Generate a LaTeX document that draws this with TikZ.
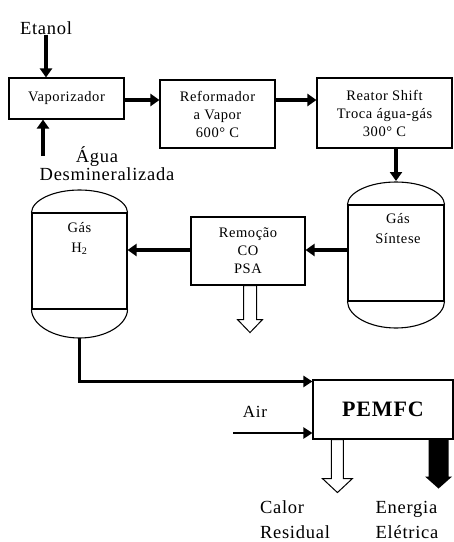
\documentclass[tikz,border=0pt]{standalone}
\usepackage{fontspec}
\setmainfont{Liberation Serif}[LetterSpace=4]
\usetikzlibrary{arrows.meta,calc}
\begin{document}
\begin{tikzpicture}[x=1pt,y=-1pt,
  box/.style={draw,line width=1.1pt,rectangle,inner sep=0pt,align=center,font=\fontsize{14.5}{18}\selectfont},
  vessel/.style={draw,line width=1.1pt,rectangle,inner sep=0pt},
  dome/.style={line width=1.1pt},
  thickarrow/.style={line width=3.5pt,-{Triangle[length=9pt,width=12pt]}},
  medarrow/.style={line width=2.6pt,-{Triangle[length=9pt,width=11pt]}},
  lbl/.style={inner sep=0pt,align=center,font=\fontsize{18.5}{25}\selectfont},
  vtext/.style={inner sep=0pt,align=center,font=\fontsize{14.5}{20}\selectfont},
  hollow/.style={draw,line width=1pt,fill=white},
]
\useasboundingbox (0,0) rectangle (454,542);

% boxes
\node[box,minimum width=115pt,minimum height=41pt] (vap) at (66.5,98.5) {Vaporizador};
\node[box,minimum width=115pt,minimum height=68pt] (ref) at (217.5,114) {Reformador\\a Vapor\\600° C};
\node[box,minimum width=135pt,minimum height=70pt] (rea) at (384.5,113) {Reator Shift\\Troca água-gás\\300° C};
\node[box,minimum width=114pt,minimum height=68pt] (rem) at (248,251) {Remoção\\CO\\PSA};
\node[box,minimum width=140pt,minimum height=59pt,font=\fontsize{22}{24}\selectfont\bfseries] (pem) at (383,409.5) {PEMFC};

% vessels
\node[vessel,minimum width=95pt,minimum height=96pt] (h2) at (79.5,261) {};
\draw[dome] (h2.north west) .. controls (32,200.3) and (53.3,190) .. (79.5,190)
  .. controls (105.7,190) and (127,200.3) .. (h2.north east);
\draw[dome] (h2.south west) .. controls (32,325) and (53.3,338) .. (79.5,338)
  .. controls (105.7,338) and (127,325) .. (h2.south east);
\coordinate (h2bot) at (79.5,338);
\node[vtext,anchor=north] (h2t) at (79.5,222) {Gás\\H\textsubscript{2}};

\node[vessel,minimum width=96pt,minimum height=96pt] (gas) at (396,253) {};
\draw[dome] (gas.north west) .. controls (348,192.3) and (369.5,182) .. (396,182)
  .. controls (422.5,182) and (444,192.3) .. (gas.north east);
\draw[dome] (gas.south west) .. controls (348,316) and (369.5,328) .. (396,328)
  .. controls (422.5,328) and (444,316) .. (gas.south east);
\coordinate (gastop) at (396,181);
\node[vtext,anchor=north] (gast) at (398,213) {Gás\\Síntese};

% labels
\node[lbl] (etanol) at (46,28) {Etanol};
\node[lbl] (agua1) at (97,157) {Água};
\node[lbl] (agua2) at (107,174) {Desmineralizada};
\coordinate (aguain) at (43,156);
\node[lbl,font=\fontsize{17}{20}\selectfont] (air) at (255,412) {Air};
\coordinate (airin) at (233,433);
\node[lbl,align=left] (calor) at (295,520) {Calor\\Residual};
\node[lbl,align=left] (energ) at (407,520) {Energia\\Elétrica};

% connectors
\draw[thickarrow] (etanol.south) -- (etanol.south |- vap.north);
\draw[thickarrow] (aguain) -- (aguain |- vap.south);
\draw[thickarrow] (vap.east |- 0,100) -- (ref.west |- 0,100);
\draw[thickarrow] (ref.east |- 0,100) -- (rea.west |- 0,100);
\draw[thickarrow] (rea.south -| gastop) -- (gastop);
\draw[thickarrow] (gas.west |- 0,250) -- (rem.east |- 0,250);
\draw[thickarrow] (rem.west |- 0,250) -- (h2.east |- 0,250);
\draw[medarrow] (h2bot) |- ($(pem.north west)+(0,2)$);
\draw[medarrow] (airin) -- (airin -| pem.west);

% hollow / filled output arrows
\draw[hollow] ($(rem.south)+(-4.5,0)$) -- ++(0,34) -- ++(-6,0) -- ++(12.5,13) -- ++(12.5,-13) -- ++(-6,0) -- ++(0,-34) -- cycle;
\draw[hollow] ($(pem.south west)+(19,0)$) -- ++(0,39) -- ++(-9,0) -- ++(15,14) -- ++(15,-14) -- ++(-9,0) -- ++(0,-39) -- cycle;
\fill ($(pem.south east)+(-25,0)$) -- ++(0,37) -- ++(-3.5,0) -- ++(13.5,12) -- ++(13.5,-12) -- ++(-3.5,0) -- ++(0,-37) -- cycle;
\end{tikzpicture}
\end{document}
